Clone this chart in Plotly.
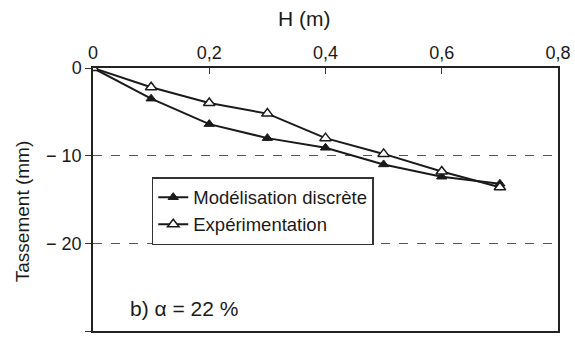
import plotly.graph_objects as go

H = [0, 0.1, 0.2, 0.3, 0.4, 0.5, 0.6, 0.7]
modelisation = [0, -3.5, -6.4, -8.0, -9.1, -11.0, -12.4, -13.2]
experimentation = [0, -2.2, -4.0, -5.2, -8.0, -9.8, -11.8, -13.6]
x_ticks = [0, 0.2, 0.4, 0.6, 0.8]
y_ticks = [0, -10, -20, -30]
y_tick_labels = ["0", "\u2212\u00a010", "\u2212\u00a020", "\u2212\u00a030"]

FONT = "Liberation Sans, Arial, sans-serif"
fig = go.Figure()
fig.add_trace(go.Scatter(
    x=H, y=modelisation, mode="lines+markers", name="Modélisation discrète",
    line=dict(color="#1a1a1a", width=2),
    marker=dict(symbol="triangle-up", size=9, color="#1a1a1a",
                line=dict(color="#1a1a1a", width=1)),
))
fig.add_trace(go.Scatter(
    x=H, y=experimentation, mode="lines+markers", name="Expérimentation",
    line=dict(color="#1a1a1a", width=2),
    marker=dict(symbol="triangle-up", size=10, color="white",
                line=dict(color="#1a1a1a", width=1.5)),
))

fig.update_layout(
    width=575, height=337,
    margin=dict(l=93, r=15, t=68, b=4),
    paper_bgcolor="white", plot_bgcolor="white",
    separators=", ",
    font=dict(family=FONT, size=18, color="#1a1a1a"),
    showlegend=True,
    legend=dict(
        x=(152 - 93) / 467, y=(333 - 178) / 265, xanchor="left", yanchor="top",
        bgcolor="white", bordercolor="#333", borderwidth=1.5,
        font=dict(family=FONT, size=18.5, color="#1a1a1a"),
        itemwidth=30, tracegroupgap=0,
    ),
    xaxis=dict(
        side="top", range=[0, 0.8], tickvals=x_ticks,
        ticks="inside", ticklen=6, tickcolor="#333",
        showline=True, linecolor="#222", linewidth=1.5, mirror=True,
        showgrid=False, zeroline=False,
        tickfont=dict(family=FONT, size=18),
    ),
    yaxis=dict(
        range=[-30, 0], tickvals=y_ticks, ticktext=y_tick_labels,
        ticks="outside", ticklen=6, tickcolor="#333",
        showline=True, linecolor="#222", linewidth=1.5, mirror=True,
        showgrid=True, gridcolor="#555", griddash="dash", gridwidth=1.3,
        zeroline=False,
        tickfont=dict(family=FONT, size=18),
    ),
    annotations=[
        dict(text="H (m)", xref="paper", yref="paper",
             x=(305 - 93) / 467, y=(333 - 18) / 265,
             xanchor="center", yanchor="middle", showarrow=False,
             font=dict(family=FONT, size=21)),
        dict(text="Tassement (mm)", xref="paper", yref="paper",
             x=(23 - 93) / 467, y=(333 - 213) / 265, textangle=-90,
             xanchor="center", yanchor="middle", showarrow=False,
             font=dict(family=FONT, size=19)),
        dict(text="b) α = 22 %", xref="paper", yref="paper",
             x=(128 - 93) / 467, y=(333 - 310) / 265,
             xanchor="left", yanchor="middle", showarrow=False,
             font=dict(family=FONT, size=21)),
    ],
)

fig.write_html("out.html")
